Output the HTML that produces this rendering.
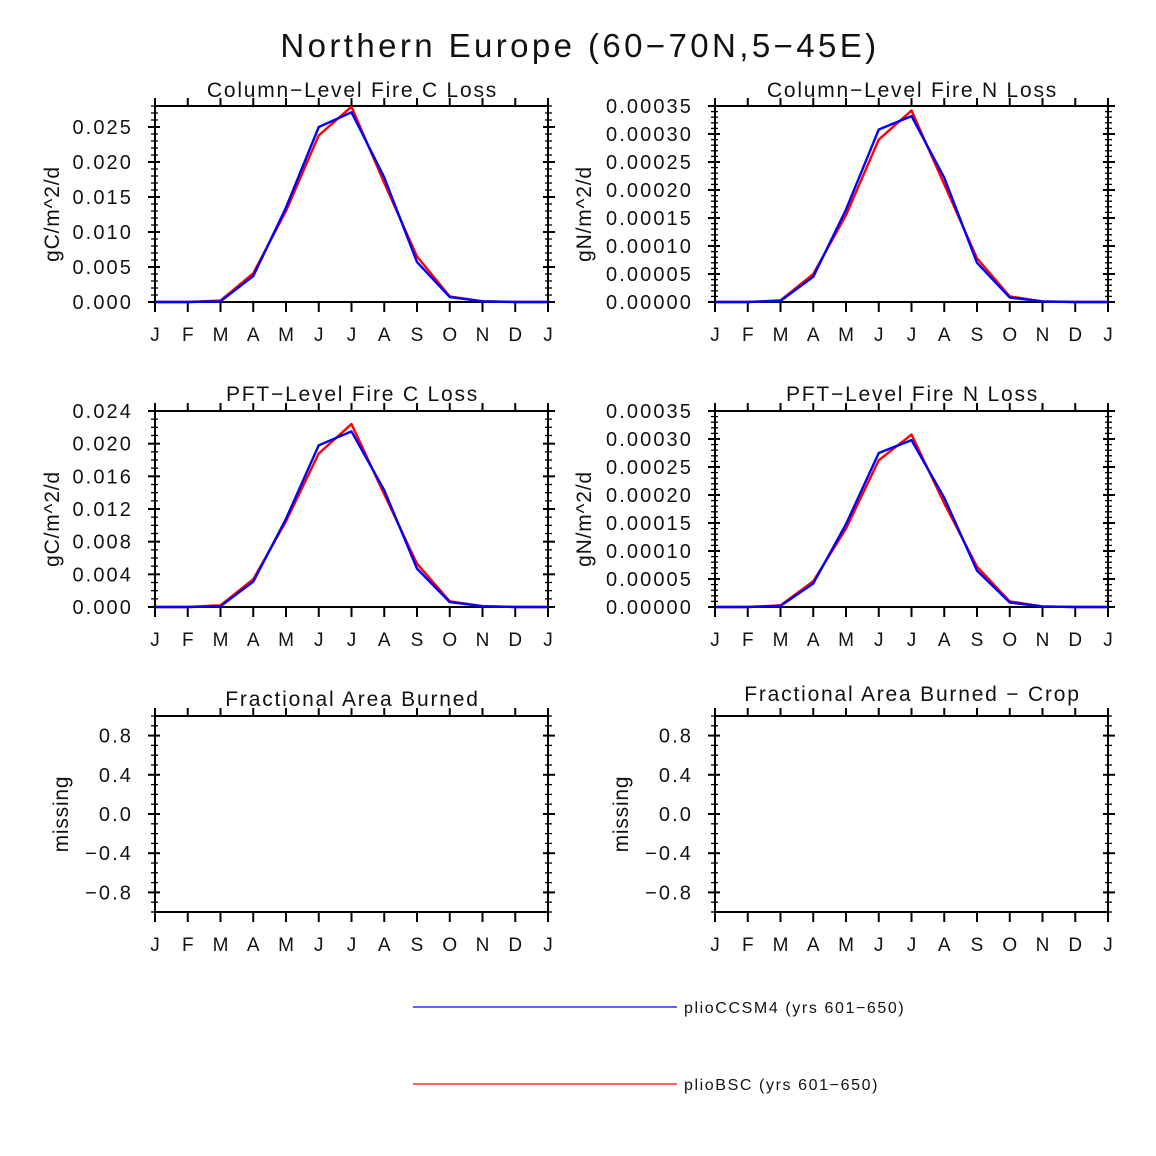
<!DOCTYPE html>
<html><head><meta charset="utf-8"><style>
body{margin:0;background:#fff}
svg{display:block}
text{font-family:"Liberation Sans",sans-serif;fill:#111}
</style></head><body>
<svg id="c" width="1156" height="1156" viewBox="0 0 1156 1156"></svg>
<script>
const months=["J","F","M","A","M","J","J","A","S","O","N","D","J"];
const colCRed=[0,0,0.0002,0.0041,0.0130,0.0238,0.0279,0.0170,0.0065,0.0008,0.0001,0,0];
const colCBlue=[0,0,0.0001,0.0037,0.0135,0.0250,0.0271,0.0178,0.0057,0.0007,0.0001,0,0];
const colNRed=[0,0,0.000003,0.000050,0.000155,0.000290,0.000342,0.000210,0.000078,0.000010,0.000001,0,0];
const colNBlue=[0,0,0.000002,0.000045,0.000165,0.000308,0.000332,0.000222,0.000070,0.000008,0.000001,0,0];
const pftCRed=[0,0,0.0002,0.0034,0.0105,0.0188,0.0224,0.0138,0.0053,0.0007,0.0001,0,0];
const pftCBlue=[0,0,0.0001,0.0031,0.0108,0.0198,0.0215,0.0143,0.0047,0.0006,0.0001,0,0];
const pftNRed=[0,0,0.000003,0.000046,0.000140,0.000262,0.000308,0.000185,0.000072,0.000010,0.000001,0,0];
const pftNBlue=[0,0,0.000002,0.000042,0.000148,0.000275,0.000298,0.000195,0.000065,0.000008,0.000001,0,0];
const colCTicks=["0.000","0.005","0.010","0.015","0.020","0.025"];
const nTicks=["0.00000","0.00005","0.00010","0.00015","0.00020","0.00025","0.00030","0.00035"];
const pftCTicks=["0.000","0.004","0.008","0.012","0.016","0.020","0.024"];
const missTicks=["-0.8","-0.4","0.0","0.4","0.8"];

const svg=document.getElementById('c');
const NS="http://www.w3.org/2000/svg";
function el(tag,attrs,parent){const e=document.createElementNS(NS,tag);for(const k in attrs)e.setAttribute(k,attrs[k]);(parent||svg).appendChild(e);return e;}
function txt(s,attrs,parent){const e=el('text',attrs,parent);e.textContent=s.replace(/-/g,'\u2212');return e;}

const t=txt("Northern Europe (60-70N,5-45E)",{x:580,y:57,'font-size':33,'text-anchor':'middle','letter-spacing':'3.4'});



function panel(cfg){
  const g=el('g',{});
  
  
  const L=cfg.x,R=cfg.x+393,T=cfg.y,B=cfg.y+196;
  const xs=i=>L+(R-L)*i/12;
  const ys=v=>B-(B-T)*(v-cfg.min)/(cfg.max-cfg.min);
  for(let v=cfg.min;v<=cfg.max+1e-12;v+=cfg.minor){
    const y=ys(v);
    el('line',{x1:L-4,x2:L+3,y1:y,y2:y,stroke:'#000','stroke-width':1.3},g);
    el('line',{x1:R-3,x2:R+4,y1:y,y2:y,stroke:'#000','stroke-width':1.3},g);
  }
  cfg.ticks.forEach((lab,i)=>{
    const v=cfg.tickStart+i*cfg.major,y=ys(v);
    el('line',{x1:L-7,x2:L+5,y1:y,y2:y,stroke:'#000','stroke-width':2},g);
    el('line',{x1:R-5,x2:R+7,y1:y,y2:y,stroke:'#000','stroke-width':2},g);
    const tl=txt(lab,{x:L-22,y:y+7,'font-size':20,'text-anchor':'end','letter-spacing':'2.1'},g);
    
    
  });
  months.forEach((m,i)=>{
    const x=xs(i);
    el('line',{x1:x,x2:x,y1:B,y2:B+10,stroke:'#000','stroke-width':2},g);
    el('line',{x1:x,x2:x,y1:T,y2:T-8,stroke:'#000','stroke-width':2},g);
    const tl=txt(m,{x:x,y:B+39,'font-size':19,'text-anchor':'middle'},g);
    
    
  });
  const f=el('rect',{x:L,y:T,width:R-L,height:B-T,fill:'none',stroke:'#000','stroke-width':2},g);
  
  
  const series=[[cfg.red,'#ff0000','plioBSC-line'],[cfg.blue,'#0000ff','plioCCSM4-line']];
  series.forEach(([d,c,n])=>{
    if(!d)return;
    const p=el('polyline',{points:d.map((v,i)=>xs(i)+','+ys(v)).join(' '),fill:'none',stroke:c,'stroke-width':2.4,'stroke-linejoin':'round'},g);
    
    
  });
  const pt=txt(cfg.title,{x:(L+R)/2+1,y:cfg.titleY,'font-size':21,'text-anchor':'middle','letter-spacing':'1.8'},g);
  
  
  const cy=(T+B)/2+cfg.yoff;
  const yt=txt(cfg.ylab,{x:0,y:0,'font-size':21,'text-anchor':'middle','letter-spacing':'0.8',transform:`translate(${cfg.ylabX},${cy}) rotate(-90)`},g);
  
  
}
panel({name:'column-fire-c-panel',x:155,y:106,min:0,max:0.028,major:0.005,minor:0.001,tickStart:0,ticks:colCTicks,red:colCRed,blue:colCBlue,title:'Column-Level Fire C Loss',titleY:97,ylab:'gC/m^2/d',ylabX:59,yoff:10});
panel({name:'column-fire-n-panel',x:715,y:106,min:0,max:0.00035,major:0.00005,minor:0.00001,tickStart:0,ticks:nTicks,red:colNRed,blue:colNBlue,title:'Column-Level Fire N Loss',titleY:97,ylab:'gN/m^2/d',ylabX:591,yoff:10});
panel({name:'pft-fire-c-panel',x:155,y:411,min:0,max:0.024,major:0.004,minor:0.001,tickStart:0,ticks:pftCTicks,red:pftCRed,blue:pftCBlue,title:'PFT-Level Fire C Loss',titleY:401,ylab:'gC/m^2/d',ylabX:59,yoff:10});
panel({name:'pft-fire-n-panel',x:715,y:411,min:0,max:0.00035,major:0.00005,minor:0.00001,tickStart:0,ticks:nTicks,red:pftNRed,blue:pftNBlue,title:'PFT-Level Fire N Loss',titleY:401,ylab:'gN/m^2/d',ylabX:591,yoff:10});
panel({name:'area-burned-panel',x:155,y:716,min:-1,max:1,major:0.4,minor:0.1,tickStart:-0.8,ticks:missTicks,red:null,blue:null,title:'Fractional Area Burned',titleY:706,ylab:'missing',ylabX:68,yoff:0});
panel({name:'area-burned-crop-panel',x:715,y:716,min:-1,max:1,major:0.4,minor:0.1,tickStart:-0.8,ticks:missTicks,red:null,blue:null,title:'Fractional Area Burned - Crop',titleY:701,ylab:'missing',ylabX:628,yoff:0});

const legend=[["plioCCSM4 (yrs 601-650)","#0000ff",1007],["plioBSC (yrs 601-650)","#ff0000",1084]];
legend.forEach(([lab,c,y])=>{
  const g=el('g',{});
  
  
  el('line',{x1:413,x2:677,y1:y,y2:y,stroke:c,'stroke-width':1.2},g);
  txt(lab,{x:684,y:y+6,'font-size':16,'letter-spacing':'1.6'},g);
});
</script>
</body></html>
